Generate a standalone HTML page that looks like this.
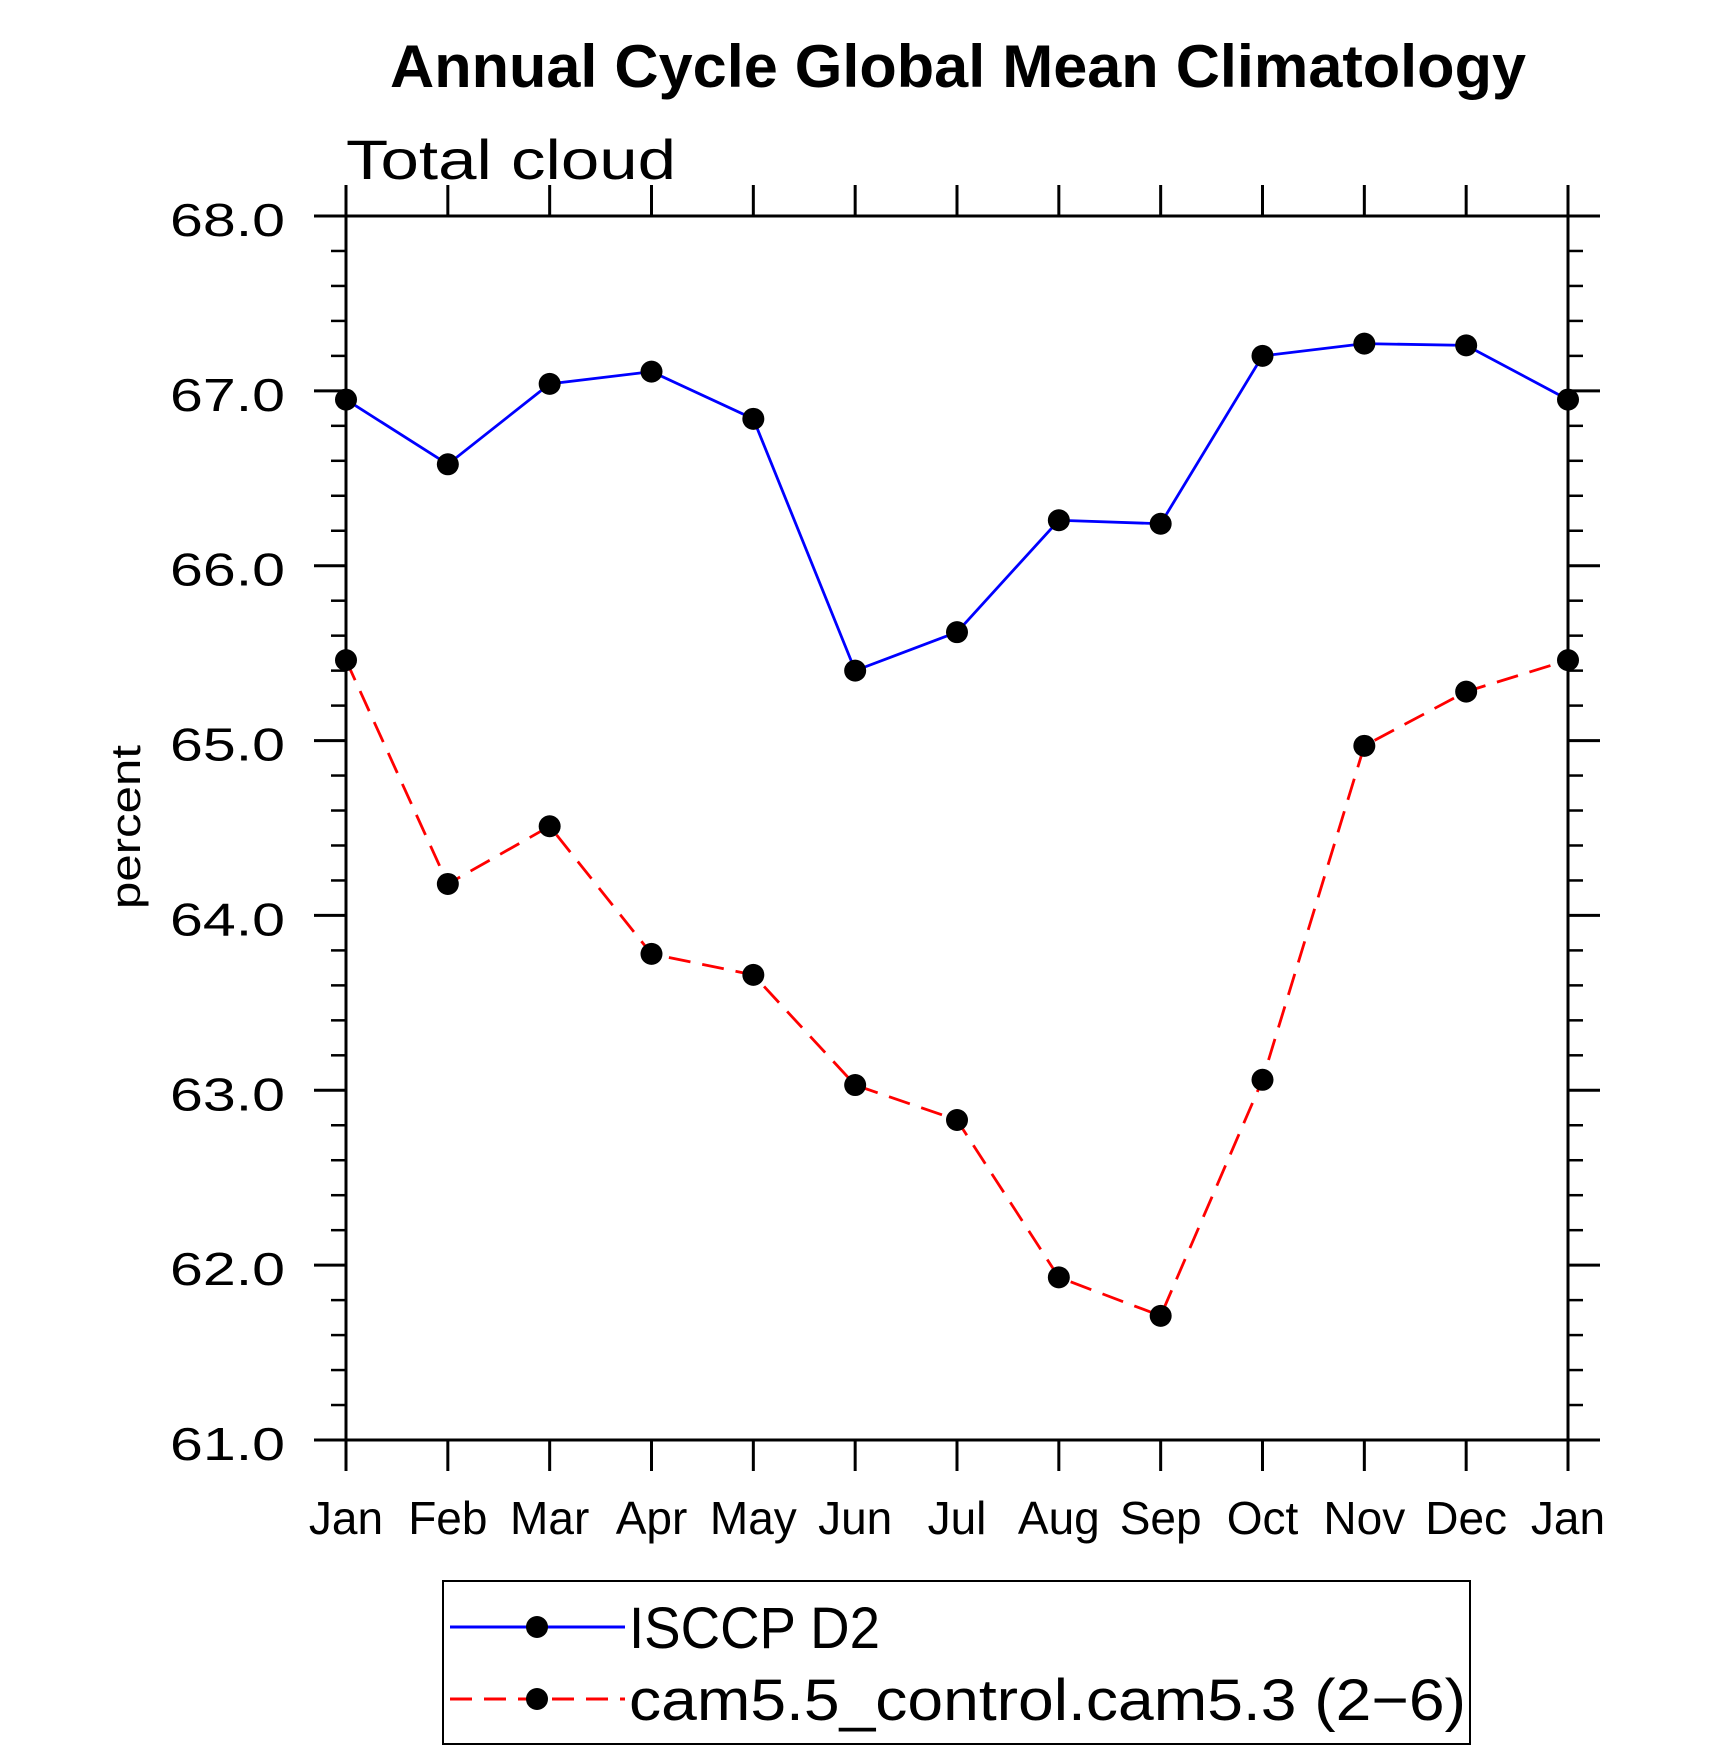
<!DOCTYPE html>
<html><head><meta charset="utf-8"><style>
html,body{margin:0;padding:0;background:#fff}
svg{display:block}
text{font-family:"Liberation Sans",sans-serif}
.lab{font-size:46px;font-weight:300;fill:#000}
</style></head><body>
<svg id="chart" width="1710" height="1751" viewBox="0 0 1710 1751" xmlns="http://www.w3.org/2000/svg">
<text x="958" y="87" text-anchor="middle" font-size="60" font-weight="bold" textLength="1136" lengthAdjust="spacingAndGlyphs">Annual Cycle Global Mean Climatology</text>
<text x="346" y="179" font-size="56" font-weight="300" textLength="330" lengthAdjust="spacingAndGlyphs">Total cloud</text>
<text transform="translate(140,827) rotate(-90)" text-anchor="middle" font-size="42" textLength="164" lengthAdjust="spacingAndGlyphs">percent</text>
<g id="axes"></g>
<g id="series"></g>
<g>
<rect x="443" y="1581" width="1027" height="163" fill="none" stroke="#000" stroke-width="2"/>
<g>
<line x1="450" y1="1627" x2="625" y2="1627" stroke="#0000ff" stroke-width="3"/>
<circle cx="537" cy="1627" r="11" fill="#000"/>
<text x="629" y="1648" font-size="58" font-weight="300" textLength="251" lengthAdjust="spacingAndGlyphs">ISCCP D2</text>
</g>
<g>
<line x1="450" y1="1699" x2="625" y2="1699" stroke="#ff0000" stroke-width="3" stroke-dasharray="22,12"/>
<circle cx="537" cy="1699" r="11" fill="#000"/>
<text x="629" y="1720" font-size="58" font-weight="300" textLength="837" lengthAdjust="spacingAndGlyphs">cam5.5_control.cam5.3 (2−6)</text>
</g>
</g>
</svg>
<script>
const months = ["Jan","Feb","Mar","Apr","May","Jun","Jul","Aug","Sep","Oct","Nov","Dec","Jan"];
const isccp = [66.95,66.58,67.04,67.11,66.84,65.40,65.62,66.26,66.24,67.20,67.27,67.26,66.95];
const cam = [65.46,64.18,64.51,63.78,63.66,63.03,62.83,61.93,61.71,63.06,64.97,65.28,65.46];
const yTicks = [61,62,63,64,65,66,67,68];
const yTickLabels = ["61.0","62.0","63.0","64.0","65.0","66.0","67.0","68.0"];

const L=346,R=1568,T=216,B=1440,yMin=61,yMax=68;
const xs=i=>L+(R-L)*i/(months.length-1);
const ys=v=>B-(v-yMin)/(yMax-yMin)*(B-T);
const NS="http://www.w3.org/2000/svg";
function mk(tag,attrs,parent){const e=document.createElementNS(NS,tag);for(const k in attrs)e.setAttribute(k,attrs[k]);parent.appendChild(e);return e;}
const ax=document.getElementById('axes');
const frame=mk('rect',{x:L,y:T,width:R-L,height:B-T,fill:'none',stroke:'#000','stroke-width':3},ax);


for(let v=yMin;v<=yMax+1e-9;v+=0.2){
  const y=ys(v);const major=Math.abs(v-Math.round(v))<1e-6;const len=major?32:15;
  const t1=mk('line',{x1:L-len,y1:y,x2:L,y2:y,stroke:'#000','stroke-width':major?3:2.5},ax);
  
  
  const t2=mk('line',{x1:R,y1:y,x2:R+len,y2:y,stroke:'#000','stroke-width':major?3:2.5},ax);
  
  
}
yTicks.forEach((v,i)=>{
  const t=mk('text',{x:285,y:ys(v)+20,'text-anchor':'end',class:'lab','font-size':'56',textLength:'115',lengthAdjust:'spacingAndGlyphs'},ax);
  t.textContent=yTickLabels[i];
  
  
});
months.forEach((m,i)=>{
  const x=xs(i);
  const b=mk('line',{x1:x,y1:B,x2:x,y2:B+31,stroke:'#000','stroke-width':3},ax);
  
  
  const tp=mk('line',{x1:x,y1:T-31,x2:x,y2:T,stroke:'#000','stroke-width':3},ax);
  
  
  const t=mk('text',{x:x,y:1534,'text-anchor':'middle',class:'lab','font-size':'48'},ax);
  t.textContent=m;
  
  
});
const sg=document.getElementById('series');
function drawSeries(vals,color,dash,name){
  const pts=vals.map((v,i)=>xs(i)+','+ys(v)).join(' ');
  const pl=mk('polyline',{points:pts,fill:'none',stroke:color,'stroke-width':2.8},sg);
  if(dash)pl.setAttribute('stroke-dasharray',dash);
  
  
  vals.forEach((v,i)=>{
    const c=mk('circle',{cx:xs(i),cy:ys(v),r:11,fill:'#000'},sg);
    
    
  });
}
drawSeries(cam,'#ff0000','22,12','cam');
drawSeries(isccp,'#0000ff',null,'isccp');
</script>
</body></html>
